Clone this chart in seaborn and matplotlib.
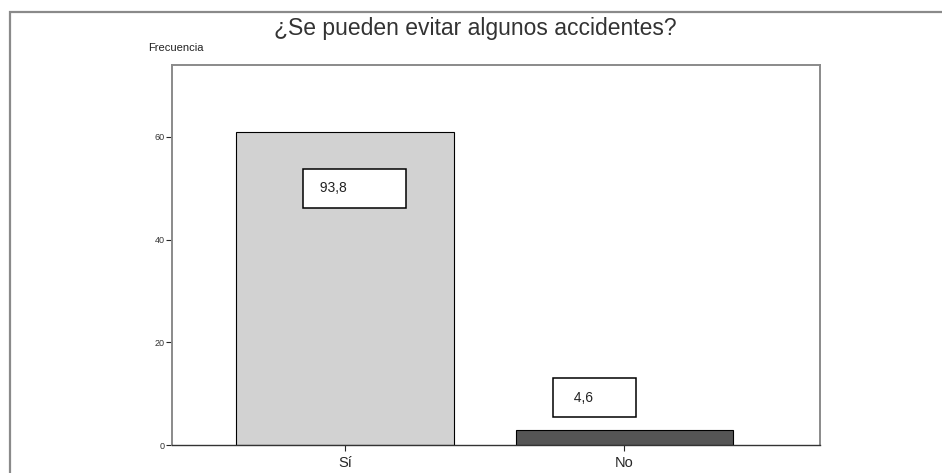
import numpy as np
import pandas as pd
import matplotlib
matplotlib.use("Agg")
import matplotlib.pyplot as plt
import seaborn as sns
from matplotlib.patches import Rectangle

# =====================================================
# Data
# =====================================================
categorias = ["Sí", "No"]
frecuencias = [61, 3]
porcentajes = ["93,8", "4,6"]
colores = ["#d2d2d2", "#555555"]
y_ticks = [0, 20, 40, 60]

df = pd.DataFrame({"categoria": categorias, "frecuencia": frecuencias})

# =====================================================
# Figure
# =====================================================
sns.set_style("white")
plt.rcParams["font.family"] = ["Liberation Sans", "DejaVu Sans"]

fig = plt.figure(figsize=(9.42, 4.73), dpi=100)
ax = fig.add_axes([172 / 942, 1 - 445 / 473, (820 - 172) / 942, (445 - 65) / 473])

sns.barplot(data=df, x="categoria", y="frecuencia", hue="categoria",
            palette=colores, legend=False, width=0.78,
            edgecolor="black", linewidth=0.8, ax=ax)

ax.set_xlim(-0.62, 1.7)
ax.set_ylim(0, 74)
ax.set_yticks(y_ticks)
ax.set_yticklabels([str(t) for t in y_ticks], fontsize=6.5, color="#333333")
ax.tick_params(axis="y", direction="out", length=4, width=0.8, pad=1, left=True)
ax.tick_params(axis="x", direction="out", length=4, width=0.8, pad=4,
               labelsize=10.5, bottom=True)
ax.set_xlabel("")
ax.set_ylabel("")

for side in ["top", "right", "left"]:
    ax.spines[side].set_color("#8a8a8a")
    ax.spines[side].set_linewidth(1.4)
ax.spines["bottom"].set_color("#333333")
ax.spines["bottom"].set_linewidth(1.0)

# percentage label boxes (position relative to each bar)
box_x = [-0.105, -0.21]
box_y = [50, 9.2]
trail = [12, 8]
for i, p in enumerate(porcentajes):
    lead = " " if i == 0 else "  "
    ax.text(i + box_x[i], box_y[i], lead + p + " " * trail[i], fontsize=10,
            color="#222222", va="center", ha="left",
            bbox=dict(boxstyle="square,pad=0.9", facecolor="white",
                      edgecolor="black", linewidth=1.1))

fig.text(475 / 942, 1 - 29 / 473, "¿Se pueden evitar algunos accidentes?",
         ha="center", va="center", fontsize=16.5, color="#333333")
fig.text(148 / 942, 1 - 48 / 473, "Frecuencia", ha="left", va="center",
         fontsize=8, color="#222222")

# outer frame of the original output
fig.add_artist(Rectangle((10 / 942, -0.02), 1.0, 1 - 12 / 473 + 0.02,
                         transform=fig.transFigure, fill=False,
                         edgecolor="#8a8a8a", linewidth=1.6))

fig.savefig("out.png", dpi=100)
